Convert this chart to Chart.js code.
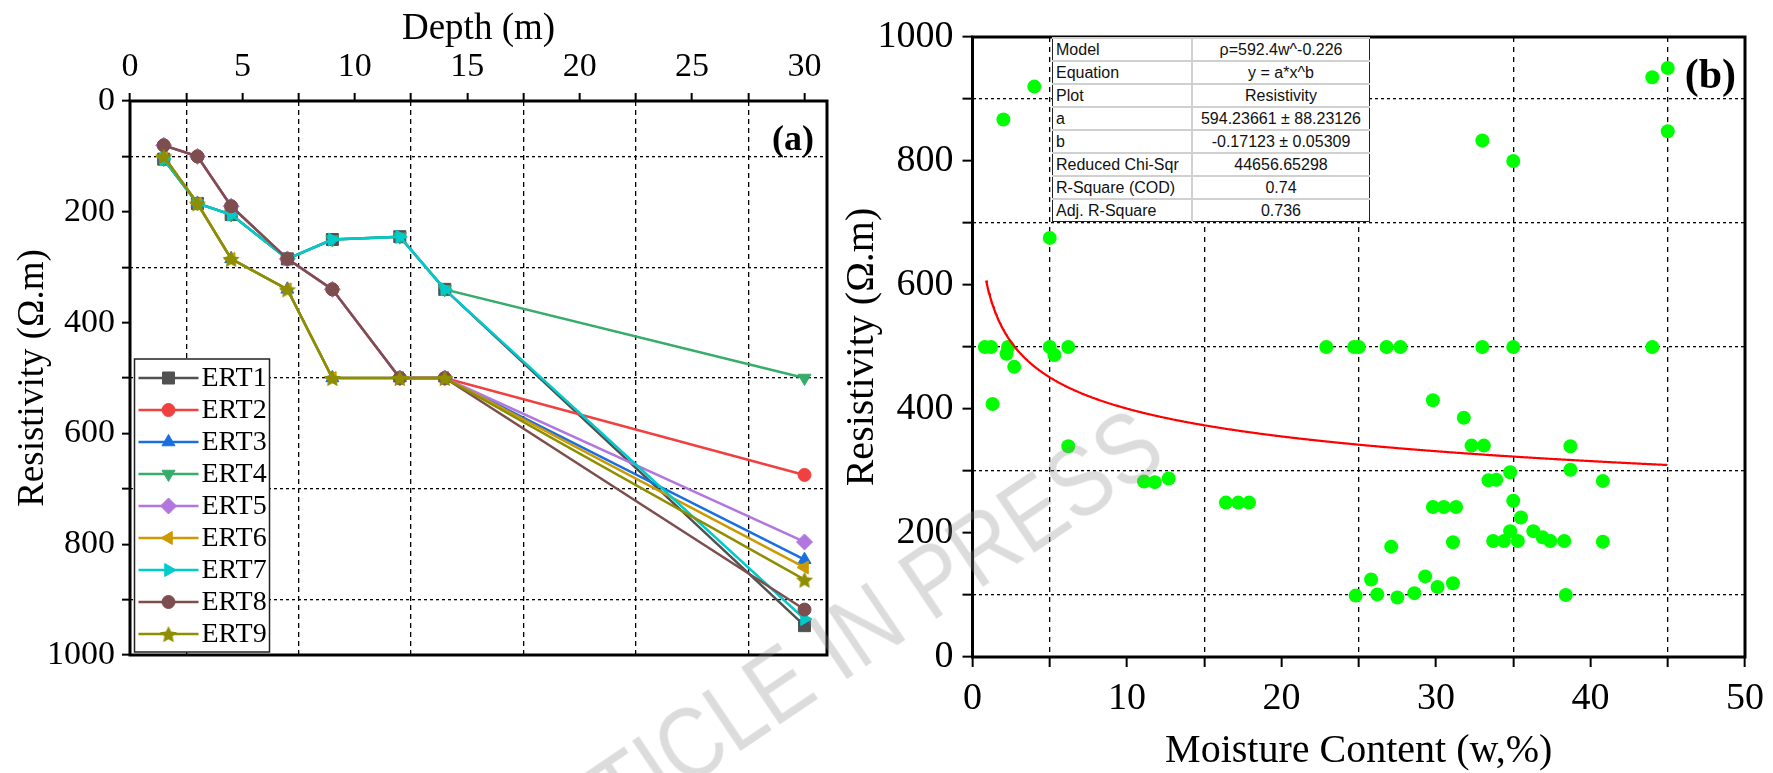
<!DOCTYPE html>
<html>
<head>
<meta charset="utf-8">
<script src="https://cdn.jsdelivr.net/npm/chart.js@4.4.0/dist/chart.umd.min.js"></script>
<style>
  html, body { margin: 0; padding: 0; background: #fff; }
  #wrap { position: relative; width: 1773px; height: 773px; overflow: hidden; background: #fff; }
  #chartA { position: absolute; left: 0; top: 0; }
  #chartB { position: absolute; left: 840px; top: 0; }
  #fitTable { position: absolute; left: 1052px; top: 37px; border-collapse: collapse; background: #fff;
              font-family: "Liberation Sans", Arial, sans-serif; font-size: 16px; color: #111; }
  #fitTable td { border: 2px solid #d0d0d0; height: 21px; padding: 0 3px; line-height: 19px; white-space: nowrap; }
  #fitTable td.k { width: 132px; text-align: left; border-left: 1.5px solid #222; }
  #fitTable td.v { width: 170px; text-align: center; border-right: 1.5px solid #222; }
  #fitTable tr:last-child td { border-bottom: 1.5px solid #222; }
  #stamp { position: absolute; left: 533px; top: 809px; font: 100px "Liberation Sans", Arial, sans-serif; line-height: 1;
           color: rgba(140,140,140,0.3); transform: rotate(-34deg) scaleX(0.85); transform-origin: 0 100%; white-space: nowrap; }
  #preload { position: absolute; left: -9999px; font-family: "Liberation Serif"; }
</style>
</head>
<body>
<div id="wrap">
  <canvas id="chartA" width="840" height="773"></canvas>
  <canvas id="chartB" width="933" height="773"></canvas>
  <table id="fitTable"></table>
  <div id="stamp">ARTICLE IN PRESS</div>
</div>
<div id="preload">Depth <b>(a)</b></div>
<script>
// (a) resistivity profiles along depth
const depths = [1.5, 3, 4.5, 7, 9, 12, 14, 30];
const ert1 = [105, 185, 205, 285, 250, 245, 340, 947];
const ert2 = [80, 100, 190, 285, 340, 500, 500, 675];
const ert3 = [100, 185, 285, 340, 500, 500, 500, 828];
const ert4 = [105, 185, 205, 285, 250, 245, 340, 500];
const ert5 = [80, 100, 190, 285, 340, 500, 500, 796];
const ert6 = [100, 185, 285, 340, 500, 500, 500, 842];
const ert7 = [105, 185, 205, 285, 250, 245, 340, 935];
const ert8 = [80, 100, 190, 285, 340, 500, 500, 918];
const ert9 = [100, 185, 285, 340, 500, 500, 500, 864];
const ertNames = ['ERT1', 'ERT2', 'ERT3', 'ERT4', 'ERT5', 'ERT6', 'ERT7', 'ERT8', 'ERT9'];
const depthTicks = [0, 2.5, 5, 7.5, 10, 12.5, 15, 17.5, 20, 22.5, 25, 27.5, 30];
const resTicks = [0, 100, 200, 300, 400, 500, 600, 700, 800, 900, 1000];

// (b) moisture content (%) vs resistivity (Ω.m)
const moisture = [0.8, 1.2, 1.3, 2.0, 2.3, 2.2, 2.7, 4.0, 5.0, 5.0, 5.3, 6.2, 6.2,
  11.1, 11.8, 12.7, 16.4, 17.2, 17.9, 22.9, 24.7, 25.0, 26.8, 27.7,
  24.8, 25.8, 26.2, 27.1, 27.5, 28.6, 29.3, 29.8, 29.8, 30.1, 30.5, 31.1, 31.1, 31.3,
  31.8, 32.3, 33.1, 33.0, 33.0, 33.4, 33.9, 33.7, 34.4, 34.8, 34.8, 35.0, 35.0, 35.0,
  35.3, 35.5, 36.3, 36.9, 37.4, 38.3, 38.4, 38.7, 38.7, 40.8, 40.8, 44.0, 44.0, 45.0, 45.0];
const resistivity = [500, 500, 408, 867, 500, 489, 468, 920, 676, 500, 487, 500, 340,
  283, 282, 288, 249, 249, 249, 500, 500, 500, 500, 500,
  99, 125, 101, 178, 96, 103, 130, 414, 242, 113, 242, 119, 185, 242,
  386, 341, 341, 833, 500, 285, 286, 187, 187, 298, 203, 252, 800, 500,
  187, 225, 203, 193, 187, 187, 100, 340, 302, 284, 186, 935, 500, 950, 848];
const moistureTicks = [0, 5, 10, 15, 20, 25, 30, 35, 40, 45, 50];

// power-law fit y = a*x^b
const fitA = 594.23661;
const fitB = -0.17123;
const fitFrom = 0.88, fitTo = 45;
const fitRows = ['Model', 'Equation', 'Plot', 'a', 'b', 'Reduced Chi-Sqr', 'R-Square (COD)', 'Adj. R-Square'];
const fitVals = ['ρ=592.4w^-0.226', 'y = a*x^b', 'Resistivity', '594.23661 ± 88.23126',
  '-0.17123 ± 0.05309', '44656.65298', '0.74', '0.736'];

const ertColors = ['#515151', '#F14040', '#1A6FDF', '#37AD6B', '#B177DE', '#CC9900', '#00CBCC', '#7D4E4E', '#8E8E00'];
const serif = '"Liberation Serif", "Times New Roman", serif';

function starMarker(color, r) {
  const c = document.createElement('canvas');
  c.width = c.height = Math.ceil(r * 2 + 2);
  const g = c.getContext('2d');
  g.translate(c.width / 2, c.height / 2 + 1);
  g.beginPath();
  for (let i = 0; i < 10; i++) {
    const rr = i % 2 ? r * 0.48 : r;
    const ang = -Math.PI / 2 + i * Math.PI / 5;
    g.lineTo(rr * Math.cos(ang), rr * Math.sin(ang));
  }
  g.closePath();
  g.fillStyle = color;
  g.fill();
  return c;
}

const markers = [
  { style: 'rect', rot: 0, r: 8.5 },
  { style: 'circle', rot: 0, r: 6.5 },
  { style: 'triangle', rot: 0, r: 7.5 },
  { style: 'triangle', rot: 180, r: 7.5 },
  { style: 'rectRot', rot: 0, r: 8 },
  { style: 'triangle', rot: -90, r: 7.5 },
  { style: 'triangle', rot: 90, r: 7.5 },
  { style: 'circle', rot: 0, r: 6.5 },
  { style: starMarker('#8E8E00', 9), rot: 0, r: 9 }
];

// box around the plotting area, plus the panel letter
const frame = {
  id: 'frame',
  afterDatasetsDraw(chart) {
    const { ctx, chartArea: a } = chart;
    ctx.save();
    ctx.strokeStyle = '#000';
    ctx.lineWidth = 3;
    ctx.strokeRect(a.left, a.top, a.right - a.left, a.bottom - a.top);
    const p = chart.options.plugins.panel;
    if (p) {
      ctx.fillStyle = '#000';
      ctx.font = 'bold ' + p.size + 'px ' + serif;
      ctx.textAlign = 'right';
      ctx.textBaseline = 'middle';
      ctx.fillText(p.text, a.right - p.dx, a.top + p.dy);
    }
    ctx.restore();
  }
};

// boxed legend in the lower-left corner of (a)
const ertLegend = {
  id: 'ertLegend',
  afterDatasetsDraw(chart) {
    const { ctx, chartArea } = chart;
    const rowH = 32;
    const h = 293, w = 135;
    const x0 = chartArea.left + 4.5, y0 = chartArea.bottom - 3 - h;
    ctx.save();
    ctx.fillStyle = '#fff';
    ctx.fillRect(x0, y0, w, h);
    ctx.strokeStyle = '#222';
    ctx.lineWidth = 1.5;
    ctx.strokeRect(x0, y0, w, h);
    chart.data.datasets.forEach((ds, i) => {
      const y = y0 + 19 + i * rowH;
      ctx.strokeStyle = ds.borderColor;
      ctx.lineWidth = 2.5;
      ctx.beginPath();
      ctx.moveTo(x0 + 4, y);
      ctx.lineTo(x0 + 64, y);
      ctx.stroke();
      ctx.fillStyle = ds.backgroundColor;
      ctx.lineWidth = 1;
      Chart.helpers.drawPoint(ctx, { pointStyle: ds.pointStyle, rotation: ds.pointRotation, radius: ds.pointRadius, borderWidth: 1 }, x0 + 34, y);
      ctx.fillStyle = '#000';
      ctx.font = '28px ' + serif;
      ctx.textAlign = 'left';
      ctx.textBaseline = 'middle';
      ctx.fillText(ds.label, x0 + 67, y + 1);
    });
    ctx.restore();
  }
};

function minorGrid(step) {
  return c => (c.tick && c.tick.value % step !== 0) ? '#000' : 'rgba(0,0,0,0)';
}

const ertSeries = [ert1, ert2, ert3, ert4, ert5, ert6, ert7, ert8, ert9];

function drawProfiles() {
  new Chart(document.getElementById('chartA'), {
    type: 'scatter',
    data: {
      datasets: ertSeries.map((vals, i) => ({
        label: ertNames[i],
        data: vals.map((v, k) => ({ x: depths[k], y: v })),
        showLine: true,
        borderColor: ertColors[i],
        backgroundColor: ertColors[i],
        borderWidth: 2.5,
        pointStyle: markers[i].style,
        pointRotation: markers[i].rot,
        pointRadius: markers[i].r,
        pointHoverRadius: markers[i].r,
        pointBorderWidth: 1,
        order: ertSeries.length - i
      }))
    },
    options: {
      responsive: false,
      devicePixelRatio: 1,
      animation: false,
      layout: { padding: { left: 0, top: 0, right: 13, bottom: 118 } },
      plugins: {
        legend: { display: false },
        tooltip: { enabled: false },
        panel: { text: '(a)', size: 36, dx: 13, dy: 40 }
      },
      scales: {
        x: {
          type: 'linear', position: 'top', min: 0, max: 31,
          afterFit: s => { s.height = 101; },
          afterBuildTicks: s => { s.ticks = depthTicks.map(v => ({ value: v })); },
          ticks: { autoSkip: false, maxRotation: 0, padding: 6, color: '#000',
                   font: { family: serif, size: 34 }, callback: v => v % 5 === 0 ? v : '' },
          grid: { color: minorGrid(5), lineWidth: 1.3, tickColor: '#000', tickLength: 8, tickWidth: 2 },
          border: { display: false, dash: [5, 4] },
          title: { display: true, text: 'Depth (m)', color: '#000', padding: { top: 11, bottom: 0 },
                   font: { family: serif, size: 37, lineHeight: 1 } }
        },
        y: {
          type: 'linear', position: 'left', reverse: true, min: 0, max: 1000,
          afterFit: s => { s.width = 130; },
          afterBuildTicks: s => { s.ticks = resTicks.map(v => ({ value: v })); },
          ticks: { autoSkip: false, padding: 7, color: '#000',
                   font: { family: serif, size: 34 }, callback: v => v % 200 === 0 ? v : '' },
          grid: { color: minorGrid(200), lineWidth: 1.3, tickColor: '#000', tickLength: 8, tickWidth: 2 },
          border: { display: false, dash: [3, 3] },
          title: { display: true, text: 'Resistivity (Ω.m)', color: '#000', padding: { top: 15, bottom: 0 },
                   font: { family: serif, size: 37, lineHeight: 1 } }
        }
      }
    },
    plugins: [ertLegend, frame]
  });
}

function drawMoisture() {
  const fitCurve = [];
  for (let w = fitFrom; w <= fitTo + 1e-9; w += 0.05) {
    fitCurve.push({ x: w, y: fitA * Math.pow(w, fitB) });
  }

  new Chart(document.getElementById('chartB'), {
    type: 'scatter',
    data: {
      datasets: [
        {
          label: 'Fit',
          data: fitCurve,
          showLine: true,
          borderColor: '#FF0000',
          borderWidth: 2.2,
          pointRadius: 0,
          order: 0
        },
        {
          label: 'Resistivity',
          data: moisture.map((w, i) => ({ x: w, y: resistivity[i] })),
          backgroundColor: '#00FF00',
          borderColor: '#00FF00',
          borderWidth: 0,
          pointRadius: 7,
          pointHoverRadius: 7,
          order: 1
        }
      ]
    },
    options: {
      responsive: false,
      devicePixelRatio: 1,
      animation: false,
      layout: { padding: { left: 0, top: 37, right: 28, bottom: 0 } },
      plugins: {
        legend: { display: false },
        tooltip: { enabled: false },
        panel: { text: '(b)', size: 42, dx: 9, dy: 40 }
      },
      scales: {
        x: {
          type: 'linear', position: 'bottom', min: 0, max: 50,
          afterFit: s => { s.height = 116; },
          afterBuildTicks: s => { s.ticks = moistureTicks.map(v => ({ value: v })); },
          ticks: { autoSkip: false, maxRotation: 0, padding: 9, color: '#000',
                   font: { family: serif, size: 38 }, callback: v => v % 10 === 0 ? v : '' },
          grid: { color: minorGrid(10), lineWidth: 1.3, tickColor: '#000', tickLength: 10, tickWidth: 2 },
          border: { display: false, dash: [5, 5] },
          title: { display: true, text: 'Moisture Content (w,%)', color: '#000', padding: { top: 0, bottom: 2 },
                   font: { family: serif, size: 40, lineHeight: 1 } }
        },
        y: {
          type: 'linear', position: 'left', min: 0, max: 1000,
          afterFit: s => { s.width = 132.5; },
          afterBuildTicks: s => { s.ticks = resTicks.map(v => ({ value: v })); },
          ticks: { autoSkip: false, padding: 9, color: '#000',
                   font: { family: serif, size: 38 }, callback: v => v % 200 === 0 ? v : '' },
          grid: { color: minorGrid(200), lineWidth: 1.3, tickColor: '#000', tickLength: 10, tickWidth: 2 },
          border: { display: false, dash: [3, 3] },
          title: { display: true, text: 'Resistivity (Ω.m)', color: '#000', padding: { top: 2, bottom: 0 },
                   font: { family: serif, size: 40, lineHeight: 1 } }
        }
      }
    },
    plugins: [frame]
  });
}

// fit statistics table
const table = document.getElementById('fitTable');
fitRows.forEach((name, i) => {
  const tr = document.createElement('tr');
  const k = document.createElement('td');
  k.className = 'k';
  k.textContent = name;
  const v = document.createElement('td');
  v.className = 'v';
  v.textContent = fitVals[i];
  tr.appendChild(k);
  tr.appendChild(v);
  table.appendChild(tr);
});

// canvas text needs the serif face loaded before the first paint
Promise.all([
  document.fonts.load('32px "Liberation Serif"'),
  document.fonts.load('bold 32px "Liberation Serif"')
]).catch(() => {}).then(() => {
  drawProfiles();
  drawMoisture();
});
</script>
</body>
</html>
